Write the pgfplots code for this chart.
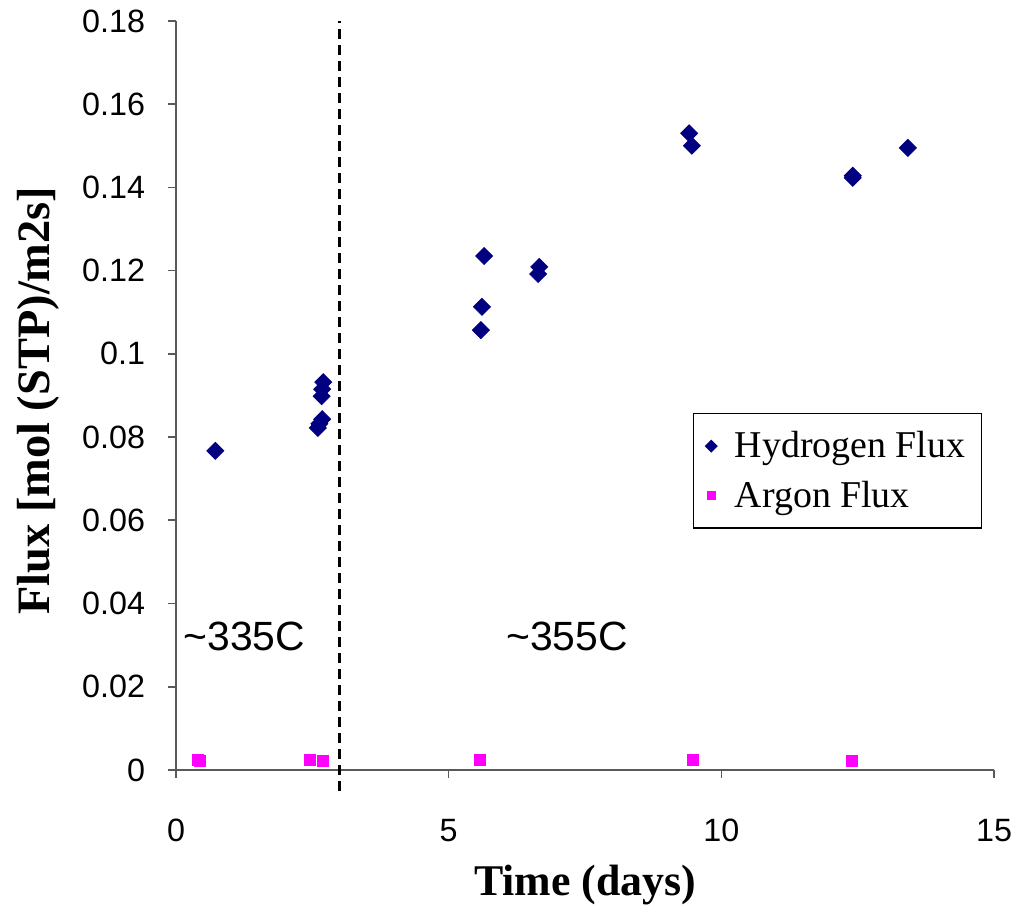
\documentclass[border=0pt]{standalone}
\usepackage{fontspec}
\setmainfont{Liberation Serif}
\newfontfamily\arial{Liberation Sans}
\usepackage{pgfplots}
\pgfplotsset{compat=1.18}
\definecolor{hnavy}{RGB}{0,0,128}
\definecolor{armag}{RGB}{255,0,255}
\begin{document}
\begin{tikzpicture}
\begin{axis}[
    scale only axis,
    width=409bp, height=374.5bp,
    xmin=0, xmax=15,
    ymin=0, ymax=0.18,
    axis x line=bottom, axis y line=left,
    axis line style={-, gray!70!black, line width=0.8bp},
    xtick={0,5,10,15},
    ytick={0,0.02,0.04,0.06,0.08,0.1,0.12,0.14,0.16,0.18},
    minor tick num=0,
    tick align=outside,
    major tick length=4bp,
    tick style={gray!70!black, line width=0.8bp},
    scaled y ticks=false,
    /pgf/number format/assume math mode=true,
    yticklabel style={/pgf/number format/fixed, /pgf/number format/precision=2, font=\arial\fontsize{16.2}{19}\selectfont, xshift=-8bp},
    xticklabel style={font=\arial\fontsize{16.2}{19}\selectfont, yshift=-17bp},
    xlabel={\textbf{Time (days)}},
    ylabel={\textbf{Flux [mol (STP)/m2s]}},
    xlabel style={font=\fontsize{22}{26}\selectfont, at={(axis description cs:0.5,-0.1535)}, anchor=center},
    ylabel style={font=\fontsize{23.3}{27}\selectfont, at={(axis description cs:-0.1687,0.493)}, anchor=center},
    clip=false,
    legend style={at={(0.632,0.4766)}, anchor=north west, draw=black, line width=0.6bp,
        font=\fontsize{19}{22}\selectfont, inner xsep=6bp, inner ysep=7bp, row sep=6bp,
        /tikz/every odd column/.append style={column sep=7bp}},
    legend image post style={mark size=2bp},
    legend cell align=left,
]
\addplot[only marks, mark=square*, mark size=3bp, mark options={rotate=45, fill=hnavy, draw=none}, color=hnavy] coordinates {
    (0.72,0.0767)
    (2.70,0.0932)
    (2.68,0.0915)
    (2.67,0.0898)
    (2.68,0.0843)
    (2.63,0.0832)
    (2.60,0.0822)
    (5.59,0.1057)
    (5.61,0.1113)
    (5.65,0.1235)
    (6.66,0.1209)
    (6.64,0.1192)
    (9.41,0.1530)
    (9.46,0.1500)
    (12.41,0.1428)
    (12.41,0.1423)
    (13.42,0.1495)
};
\addlegendentry{Hydrogen Flux}
\addplot[only marks, mark=square*, mark size=2.8bp, mark options={fill=armag, draw=none}, color=armag] coordinates {
    (0.40,0.0024)
    (0.44,0.0022)
    (2.46,0.0024)
    (2.70,0.0022)
    (5.57,0.0024)
    (9.48,0.0024)
    (12.40,0.0022)
};
\addlegendentry{Argon Flux}
\addplot[black, line width=1.5bp, dash pattern=on 5bp off 3bp, forget plot] coordinates {(3,-0.005) (3,0.18)};
\node[font=\arial\fontsize{20.5}{24}\selectfont] at (axis cs:1.25,0.032) {\textasciitilde335C};
\node[font=\arial\fontsize{20.5}{24}\selectfont] at (axis cs:7.17,0.032) {\textasciitilde355C};
\path (axis description cs:-0.2152,-0.1883) rectangle (axis description cs:1.0379,1.028);
\end{axis}
\end{tikzpicture}
\end{document}
